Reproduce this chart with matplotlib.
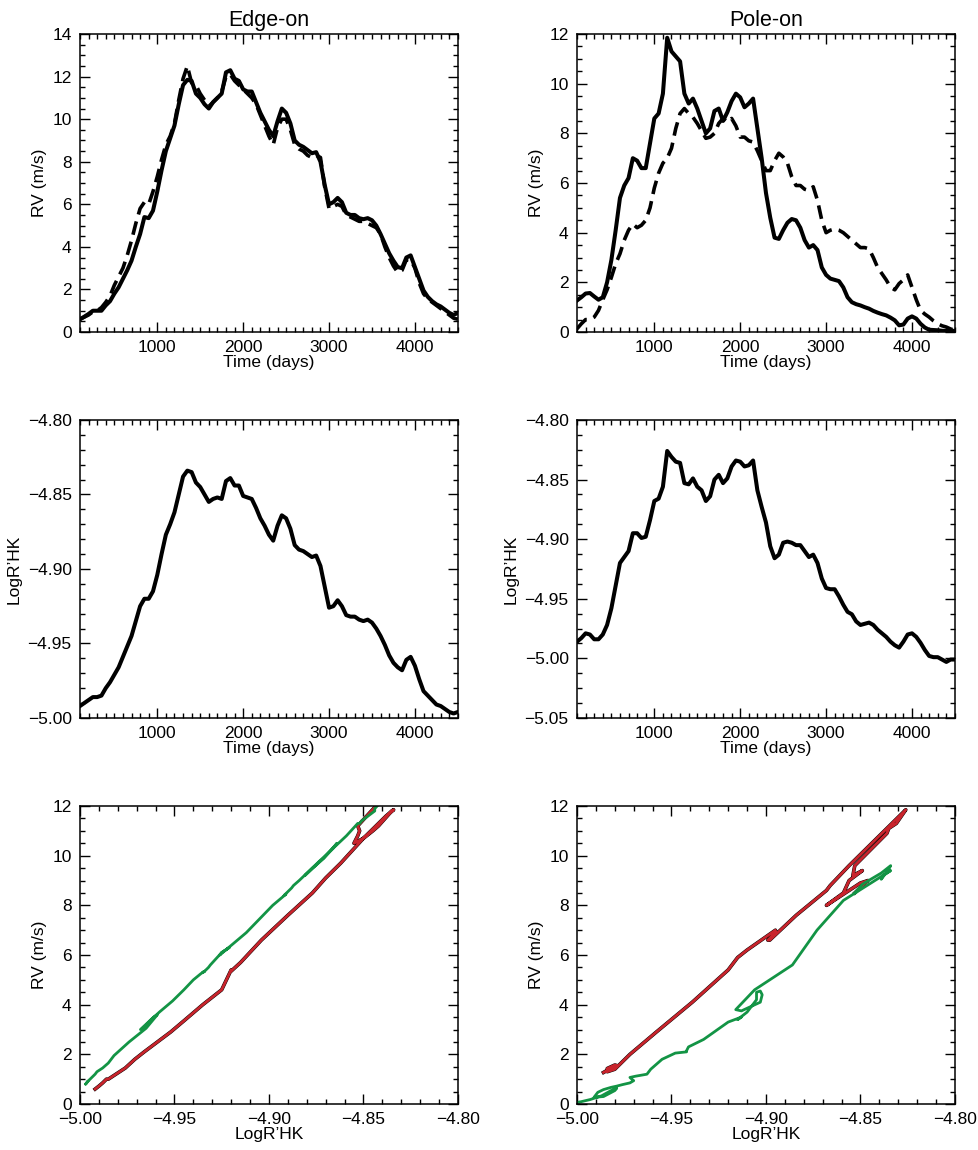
import numpy as np
import matplotlib
matplotlib.use("Agg")
import matplotlib.pyplot as plt
from matplotlib.ticker import MultipleLocator, FuncFormatter

plt.rcParams['font.family'] = ['Liberation Sans', 'DejaVu Sans']
plt.rcParams['xtick.direction'] = 'in'
plt.rcParams['ytick.direction'] = 'in'
plt.rcParams['xtick.top'] = True
plt.rcParams['ytick.right'] = True
plt.rcParams['axes.unicode_minus'] = True

# tiempo comun (dias)
time = np.arange(100, 4501, 50)

# Edge-on
rv_edge = [0.60, 0.72, 0.85, 1.00, 1.00, 1.00, 1.25, 1.45, 1.80, 2.10,
           2.50, 2.90, 3.35, 4.00, 4.60, 5.40, 5.35, 5.70, 6.60, 7.60,
           8.50, 9.10, 9.70, 10.70, 11.60, 11.85, 11.80, 11.20, 11.00, 10.70,
           10.50, 10.80, 11.00, 11.20, 12.20,
           12.30, 11.90, 11.80, 11.40, 11.30, 11.30, 10.80, 10.30, 9.90, 9.50,
           9.20, 9.90, 10.50, 10.30, 9.80, 9.00, 8.80, 8.70, 8.55, 8.40,
           8.45, 8.00, 6.90, 6.00, 6.10, 6.30, 6.10, 5.60, 5.50, 5.50,
           5.35, 5.30, 5.35, 5.25, 5.00, 4.60, 4.15, 3.70, 3.35, 3.05,
           3.00, 3.50, 3.60, 3.05, 2.50, 1.95, 1.65, 1.45, 1.30, 1.20,
           1.05, 0.90, 0.80, 0.90]
rv_edge_dash = [0.60, 0.70, 0.80, 0.95, 1.00, 1.15, 1.40, 1.70, 2.20, 2.60,
                3.00, 3.60, 4.30, 5.10, 5.80, 6.10, 6.00, 6.60, 7.30, 8.10,
                8.80, 9.20, 9.80, 10.90, 11.90, 12.50, 11.70, 11.60, 11.20, 10.90,
                10.60, 10.80, 11.00, 11.30, 12.00, 12.10, 11.80, 11.60, 11.40, 11.20,
                11.00, 10.70, 10.20, 9.70, 9.20, 8.80, 9.60, 10.00, 10.00, 9.50,
                8.80, 8.60, 8.50, 8.30, 8.20, 8.30, 8.20, 6.80, 5.80, 5.90,
                6.00, 5.90, 5.50, 5.40, 5.30, 5.20, 5.20, 5.10, 5.00, 4.90,
                4.60, 4.00, 3.50, 3.10, 2.80, 2.90, 3.40, 3.40, 3.00, 2.30,
                1.80, 1.55, 1.40, 1.25, 1.10, 0.95, 0.80, 0.65, 0.60]
logr_edge = [-4.992, -4.990, -4.988, -4.986, -4.986, -4.985, -4.980, -4.976, -4.971, -4.966,
             -4.959, -4.952, -4.945, -4.935, -4.925, -4.920, -4.920, -4.915, -4.904, -4.890,
             -4.877, -4.870, -4.862, -4.850, -4.838, -4.834, -4.835, -4.842, -4.845, -4.850,
             -4.855, -4.853, -4.852, -4.853, -4.841,
             -4.839, -4.844, -4.844, -4.851, -4.852, -4.853, -4.859, -4.866, -4.871, -4.877,
             -4.881, -4.871, -4.864, -4.866, -4.873, -4.884, -4.887, -4.888, -4.890, -4.892,
             -4.891, -4.898, -4.912, -4.926, -4.925, -4.921, -4.925, -4.931, -4.932, -4.932,
             -4.934, -4.935, -4.934, -4.936, -4.940, -4.945, -4.951, -4.958, -4.963, -4.966,
             -4.968, -4.961, -4.959, -4.965, -4.974, -4.982, -4.985, -4.988, -4.991, -4.992,
             -4.994, -4.996, -4.997, -4.996]

# Pole-on
rv_pole = [1.27, 1.40, 1.55, 1.57, 1.43, 1.30, 1.40, 2.00, 2.90, 4.10,
           5.40, 5.90, 6.20, 7.00, 6.90, 6.60, 6.60, 7.60, 8.60, 8.80,
           9.60, 11.85, 11.30, 11.10, 10.90, 9.60, 9.20, 9.40, 9.00, 8.50,
           8.00, 8.20, 8.90, 9.00, 8.50, 8.85, 9.30, 9.60, 9.45, 9.05,
           9.20, 9.40, 8.20, 7.00, 5.60, 4.60, 3.80, 3.75, 4.10, 4.40,
           4.55, 4.50, 4.20, 3.70, 3.40, 3.50, 3.30, 2.60, 2.30, 2.15,
           2.10, 2.05, 1.80, 1.40, 1.20, 1.12, 1.07, 1.00, 0.94, 0.85,
           0.78, 0.72, 0.67, 0.58, 0.47, 0.27, 0.30, 0.54, 0.63, 0.54,
           0.33, 0.18, 0.09, 0.08, 0.07, 0.05, 0.04, 0.04, 0.05]
rv_pole_dash = [0.13, 0.33, 0.50, 0.50, 0.60, 0.87, 1.30, 1.70, 2.20, 2.75,
                3.15, 3.70, 4.10, 4.35, 4.20, 4.30, 4.50, 5.00, 5.80, 6.40,
                6.80, 7.00, 7.40, 8.20, 8.80, 9.00, 8.80, 8.65, 8.40, 8.10,
                7.80, 7.85, 8.00, 8.40, 8.60, 8.45, 8.60, 8.30, 7.85, 7.85,
                7.70, 7.65, 7.30, 6.90, 6.50, 6.50, 6.90, 7.20, 7.05, 6.80,
                6.25, 5.90, 5.90, 5.75, 5.70, 5.85, 5.30, 4.50, 4.00, 4.10,
                4.15, 4.10, 4.00, 3.85, 3.70, 3.55, 3.40, 3.40, 3.35, 3.00,
                2.60, 2.35, 2.10, 1.80, 1.70, 1.95, 2.10, 2.30, 1.80, 1.30,
                0.87, 0.72, 0.60, 0.45, 0.33, 0.25, 0.20, 0.12, 0.07]
logr_pole = [-4.986, -4.983, -4.979, -4.980, -4.984, -4.984, -4.980, -4.972, -4.958, -4.939,
             -4.920, -4.915, -4.910, -4.895, -4.895, -4.899, -4.898, -4.884, -4.868, -4.866,
             -4.856, -4.826, -4.831, -4.835, -4.836, -4.853, -4.854, -4.849, -4.856, -4.859,
             -4.868, -4.864, -4.850, -4.846, -4.853, -4.849, -4.839, -4.834, -4.835, -4.839,
             -4.838, -4.834, -4.859, -4.873, -4.886, -4.906, -4.916, -4.913, -4.903, -4.902,
             -4.903, -4.905, -4.905, -4.910, -4.915, -4.913, -4.920, -4.933, -4.941, -4.942,
             -4.942, -4.948, -4.955, -4.961, -4.963, -4.969, -4.972, -4.971, -4.970, -4.972,
             -4.976, -4.979, -4.982, -4.986, -4.989, -4.991, -4.986, -4.980, -4.979, -4.982,
             -4.987, -4.993, -4.998, -4.999, -4.999, -5.001, -5.003, -5.001, -5.001]

t_split = 1800  # fase creciente (rojo) / decreciente (verde)

RED = '#c8242c'
GREEN = '#139445'
FS = 12.5

fig = plt.figure(figsize=(9.79, 11.5), dpi=100)

cols = [0.0817, 0.5894]
rows = [0.7113, 0.3757, 0.040]
w, h = 0.386, 0.2591

minus_fmt = FuncFormatter(lambda v, p: f"{v:.2f}".replace('-', '\u2212'))


def style(ax, xmaj, xmin, ymaj, ymin):
    ax.xaxis.set_major_locator(MultipleLocator(xmaj))
    ax.xaxis.set_minor_locator(MultipleLocator(xmin))
    ax.yaxis.set_major_locator(MultipleLocator(ymaj))
    ax.yaxis.set_minor_locator(MultipleLocator(ymin))
    ax.tick_params(which='major', length=7, width=1.0, labelsize=FS, pad=6)
    ax.tick_params(which='minor', length=3.5, width=1.0)
    for s in ax.spines.values():
        s.set_linewidth(1.1)


panels = [
    ("Edge-on", rv_edge, rv_edge_dash, logr_edge, (0, 14), (-5.00, -4.80), 0.01),
    ("Pole-on", rv_pole, rv_pole_dash, logr_pole, (0, 12), (-5.05, -4.80), 0.0125),
]

t = np.array(time)
for c, (title, rv, rvd, lr, rvlim, lrlim, lrminor) in enumerate(panels):
    rv = np.array(rv)
    rvd = np.array(rvd)
    lr = np.array(lr)

    # RV vs tiempo
    ax = fig.add_axes([cols[c], rows[0], w, h])
    ax.plot(t, rv, color='black', lw=2.9, solid_joinstyle='round')
    ax.plot(t, rvd, color='black', lw=2.6, ls=(0, (3.8, 2.0)))
    ax.set_xlim(100, 4500)
    ax.set_ylim(*rvlim)
    style(ax, 1000, 100, 2, 0.5)
    ax.set_title(title, fontsize=15.5, pad=6)
    ax.set_xlabel("Time (days)", fontsize=FS, labelpad=0)
    ax.set_ylabel("RV (m/s)", fontsize=FS)

    # LogR'HK vs tiempo
    ax = fig.add_axes([cols[c], rows[1], w, h])
    ax.plot(t, lr, color='black', lw=2.9, solid_joinstyle='round')
    ax.set_xlim(100, 4500)
    ax.set_ylim(*lrlim)
    style(ax, 1000, 100, 0.05, lrminor)
    ax.yaxis.set_major_formatter(minus_fmt)
    ax.set_xlabel("Time (days)", fontsize=FS, labelpad=0)
    ax.set_ylabel("LogR\u2019HK", fontsize=FS)

    # RV vs LogR'HK
    ax = fig.add_axes([cols[c], rows[2], w, h])
    up = t <= t_split
    down = t >= t_split
    ax.plot(lr[up], rv[up], color='black', lw=2.6)
    ax.plot(lr[up], rv[up], color=RED, lw=2.0)
    ax.plot(lr[down], rv[down], color=GREEN, lw=2.0)
    ax.set_xlim(-5.00, -4.80)
    ax.set_ylim(0, 12)
    style(ax, 0.05, 0.01, 2, 0.5)
    ax.xaxis.set_major_formatter(minus_fmt)
    ax.set_xlabel("LogR\u2019HK", fontsize=FS, labelpad=0)
    ax.set_ylabel("RV (m/s)", fontsize=FS)

fig.savefig("out.png", dpi=100)
